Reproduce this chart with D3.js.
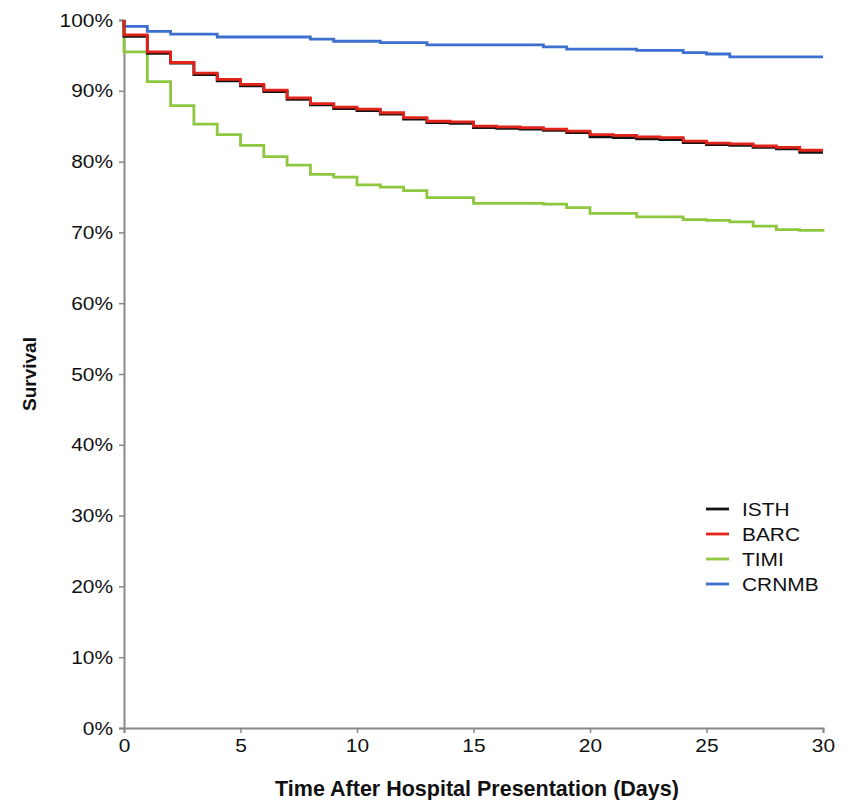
<!DOCTYPE html>
<html>
<head>
<meta charset="utf-8">
<script src="https://cdn.jsdelivr.net/npm/d3@7"></script>
<style>
  body { margin: 0; background: #fff; }
  text { font-family: "Liberation Sans", Arial, sans-serif; }
</style>
</head>
<body>
<svg width="852" height="800"></svg>
<script>
// Kaplan-Meier survival (%) read per day, days 0..30
var days = d3.range(0, 31);

var isth  = [97.7, 95.3, 93.9, 92.3, 91.4, 90.7, 89.9, 88.8, 88.0, 87.5, 87.2, 86.7, 86.0, 85.5, 85.4, 84.8, 84.7, 84.6, 84.4, 84.1, 83.5, 83.4, 83.2, 83.1, 82.7, 82.4, 82.3, 82.0, 81.8, 81.3, 81.3];
var barc  = [97.9, 95.5, 94.0, 92.5, 91.6, 90.9, 90.1, 89.0, 88.2, 87.7, 87.4, 86.9, 86.2, 85.7, 85.6, 85.0, 84.9, 84.8, 84.6, 84.3, 83.8, 83.7, 83.5, 83.4, 82.9, 82.6, 82.5, 82.2, 82.0, 81.6, 81.6];
var timi  = [95.5, 91.3, 87.9, 85.3, 83.8, 82.3, 80.7, 79.5, 78.2, 77.8, 76.7, 76.4, 75.9, 74.9, 74.9, 74.1, 74.1, 74.1, 74.0, 73.5, 72.7, 72.7, 72.2, 72.2, 71.8, 71.7, 71.5, 70.9, 70.4, 70.3, 70.1];
var crnmb = [99.1, 98.4, 98.0, 98.0, 97.6, 97.6, 97.6, 97.6, 97.3, 97.0, 97.0, 96.8, 96.8, 96.5, 96.5, 96.5, 96.5, 96.5, 96.2, 95.9, 95.9, 95.9, 95.7, 95.7, 95.4, 95.2, 94.8, 94.8, 94.8, 94.8, 94.8];

var seriesNames = ["ISTH", "BARC", "TIMI", "CRNMB"];
var seriesColors = ["#141414", "#e2231a", "#8dc63f", "#3b6fd0"];
var yTicks = [0, 10, 20, 30, 40, 50, 60, 70, 80, 90, 100];
var xTicks = [0, 5, 10, 15, 20, 25, 30];

var svg = d3.select("svg");
var margin = {left: 124, right: 29, top: 20, bottom: 72};
var width = 852 - margin.left - margin.right,
  height = 800 - margin.top - margin.bottom;

var g = svg.append("g").attr("transform", "translate(" + margin.left + "," + margin.top + ")");

var x = d3.scaleLinear().domain([0, 30]).range([0, width]);
var y = d3.scaleLinear().domain([0, 100]).range([height, 0]);

// axes
var yAxis = g.append("g")
  .call(d3.axisLeft(y).tickValues(yTicks).tickFormat(function(d) { return d + "%"; }).tickSizeOuter(0).tickSize(5).tickPadding(5));
var xAxis = g.append("g")
  .attr("transform", "translate(0," + height + ")")
  .call(d3.axisBottom(x).tickValues(xTicks).tickSizeOuter(0).tickSize(5).tickPadding(6));

// the original labels are a bit wider than Liberation Sans, stretch them slightly
[yAxis, xAxis].forEach(function(a) {
  a.select(".domain").attr("stroke", "#888").attr("stroke-width", 2);
  a.selectAll(".tick line").attr("stroke", "#888").attr("stroke-width", 1.5);
  a.selectAll(".tick text").attr("fill", "#111").style("font-size", "19px")
    .attr("transform", "scale(1.1,1)");
});

// survival curves (start at 100% at time 0)
var allSeries = [isth, barc, timi, crnmb];
var line = d3.line()
  .x(function(d) { return x(d[0]); })
  .y(function(d) { return y(d[1]); })
  .curve(d3.curveStepAfter);

// draw order: CRNMB, TIMI, ISTH, BARC (red over black)
[3, 2, 0, 1].forEach(function(i) {
  var pts = [[0, 100]].concat(days.map(function(d, j) { return [d, allSeries[i][j]]; }));
  g.append("path")
    .datum(pts)
    .attr("fill", "none")
    .attr("stroke", seriesColors[i])
    .attr("stroke-width", 2.8)
    .attr("d", line);
});

// legend
var legend = svg.append("g").attr("transform", "translate(706,509)");
seriesNames.forEach(function(name, i) {
  var row = legend.append("g").attr("transform", "translate(0," + (i * 25) + ")");
  row.append("line").attr("x1", 0).attr("x2", 23).attr("y1", 0).attr("y2", 0)
    .attr("stroke", seriesColors[i]).attr("stroke-width", 2.8);
  row.append("text").attr("transform", "translate(36,7) scale(1.1,1)")
    .style("font-size", "19px").attr("fill", "#111").text(name);
});

// axis titles
svg.append("text")
  .attr("x", 477).attr("y", 796)
  .attr("text-anchor", "middle")
  .style("font-size", "21.5px").style("font-weight", "bold").attr("fill", "#111")
  .text("Time After Hospital Presentation (Days)");

svg.append("text")
  .attr("transform", "translate(36," + (margin.top + height / 2) + ") rotate(-90)")
  .attr("text-anchor", "middle")
  .style("font-size", "19px").style("font-weight", "bold").attr("fill", "#111")
  .text("Survival");
</script>
</body>
</html>
